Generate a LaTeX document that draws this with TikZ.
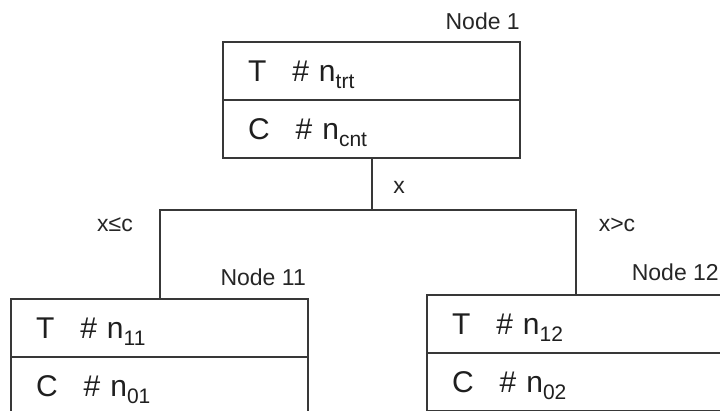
\documentclass[tikz,border=0pt]{standalone}
\usepackage{fontspec}
\setmainfont{Liberation Sans}
% lowered, smaller index after a count symbol
\newcommand\lowsub[1]{\raisebox{-0.24em}{\fontsize{21}{22}\selectfont #1}}
\begin{document}
\begin{tikzpicture}[x=1pt,y=-1pt,
  line/.style={draw=black!78, line width=2pt},
  row/.style={line, rectangle, minimum width=297pt, minimum height=58pt,
    inner xsep=25pt, inner ysep=0pt, outer sep=0pt, text width=247pt, align=left,
    text height=21.5pt, text depth=0pt,
    font=\fontsize{30}{32}\selectfont, text=black!88, anchor=north west},
  lab/.style={font=\fontsize{23}{25}\selectfont, text=black!85, inner sep=0pt},
]
\useasboundingbox (0,0) rectangle (720,411);
\fill[white] (0,0) rectangle (720,411);
\clip (0,0) rectangle (720,411);

% root node
\node[row] (n1t) at (223,42) {T\hspace{26pt}\# n\lowsub{trt}};
\node[row, anchor=north] (n1c) at (n1t.south) {C\hspace{26pt}\# n\lowsub{cnt}};
\node[lab, anchor=base east] (l1) at (520,30) {Node 1};

% left child
\node[row] (n11t) at (11,299) {T\hspace{26pt}\# n\lowsub{11}};
\node[row, anchor=north] (n11c) at (n11t.south) {C\hspace{26pt}\# n\lowsub{01}};
\node[lab, anchor=base east] (l11) at (306,286) {Node 11};

% right child
\node[row] (n12t) at (427,295) {T\hspace{26pt}\# n\lowsub{12}};
\node[row, anchor=north] (n12c) at (n12t.south) {C\hspace{26pt}\# n\lowsub{02}};
\node[lab, anchor=base east] (l12) at (719,281) {Node 12};

% split on x
\coordinate (split) at (n1c.south |- 0,210);
\draw[line] (n1c.south) -- (split);
\draw[line] (n11t.north) |- (split) -| (n12t.north);

\node[lab] (xl) at (399,187) {x};
\node[lab] (le) at (115,225) {x≤c};
\node[lab] (gt) at (617,225) {x>c};
\end{tikzpicture}
\end{document}
